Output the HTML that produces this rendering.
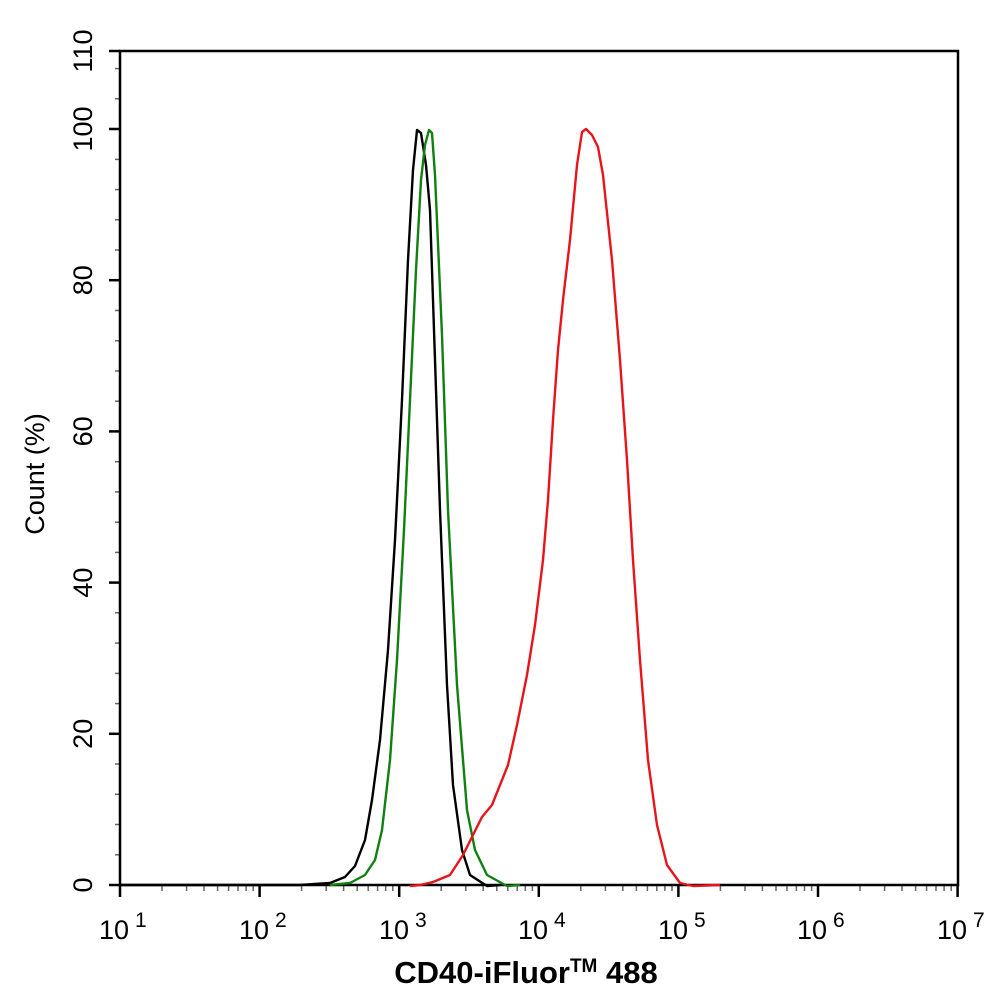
<!DOCTYPE html>
<html><head><meta charset="utf-8"><style>
html,body{margin:0;padding:0;background:#fff;}
svg text{font-family:"Liberation Sans",Arial,sans-serif;}
</style></head><body>
<svg width="994" height="1002" viewBox="0 0 994 1002" xmlns="http://www.w3.org/2000/svg">
<rect width="994" height="1002" fill="#fff"/>
<defs>
<g id="dm" stroke="#666" stroke-width="1.5">
<line x1="42" y1="885" x2="42" y2="891"/><line x1="66.6" y1="885" x2="66.6" y2="891"/><line x1="84" y1="885" x2="84" y2="891"/><line x1="97.6" y1="885" x2="97.6" y2="891"/><line x1="108.6" y1="885" x2="108.6" y2="891"/><line x1="118" y1="885" x2="118" y2="891"/><line x1="126.1" y1="885" x2="126.1" y2="891"/><line x1="133.2" y1="885" x2="133.2" y2="891"/>
</g>
</defs>
<use href="#dm" x="120"/><use href="#dm" x="259.6"/><use href="#dm" x="399.2"/><use href="#dm" x="538.8"/><use href="#dm" x="678.4"/><use href="#dm" x="818"/>
<g stroke="#666" stroke-width="1.5">
<line x1="115" x2="120" y1="854.8" y2="854.8"/><line x1="115" x2="120" y1="824.5" y2="824.5"/><line x1="115" x2="120" y1="794.3" y2="794.3"/><line x1="115" x2="120" y1="764.0" y2="764.0"/>
<line x1="115" x2="120" y1="703.6" y2="703.6"/><line x1="115" x2="120" y1="673.4" y2="673.4"/><line x1="115" x2="120" y1="643.1" y2="643.1"/><line x1="115" x2="120" y1="612.8" y2="612.8"/>
<line x1="115" x2="120" y1="552.4" y2="552.4"/><line x1="115" x2="120" y1="522.2" y2="522.2"/><line x1="115" x2="120" y1="491.9" y2="491.9"/><line x1="115" x2="120" y1="461.7" y2="461.7"/>
<line x1="115" x2="120" y1="401.2" y2="401.2"/><line x1="115" x2="120" y1="371.0" y2="371.0"/><line x1="115" x2="120" y1="340.8" y2="340.8"/><line x1="115" x2="120" y1="310.5" y2="310.5"/>
<line x1="115" x2="120" y1="250.0" y2="250.0"/><line x1="115" x2="120" y1="219.8" y2="219.8"/><line x1="115" x2="120" y1="189.6" y2="189.6"/><line x1="115" x2="120" y1="159.4" y2="159.4"/>
<line x1="115" x2="120" y1="98.8" y2="98.8"/><line x1="115" x2="120" y1="68.6" y2="68.6"/>
</g>
<g stroke="#000" stroke-width="2.5">
<line x1="109" x2="120" y1="885" y2="885"/><line x1="109" x2="120" y1="733.8" y2="733.8"/><line x1="109" x2="120" y1="582.6" y2="582.6"/><line x1="109" x2="120" y1="431.4" y2="431.4"/><line x1="109" x2="120" y1="280.2" y2="280.2"/><line x1="109" x2="120" y1="129" y2="129"/><line x1="109" x2="120" y1="51" y2="51"/>
<line y1="885" y2="897" x1="120" x2="120"/><line y1="885" y2="897" x1="259.6" x2="259.6"/><line y1="885" y2="897" x1="399.2" x2="399.2"/><line y1="885" y2="897" x1="538.8" x2="538.8"/><line y1="885" y2="897" x1="678.4" x2="678.4"/><line y1="885" y2="897" x1="818" x2="818"/><line y1="885" y2="897" x1="957.6" x2="957.6"/>
</g>
<rect x="120" y="51" width="838" height="834" fill="none" stroke="#000" stroke-width="2.5"/>
<g font-size="27" fill="#000" text-anchor="middle">
<text transform="translate(92,885) rotate(-90)">0</text>
<text transform="translate(92,733.8) rotate(-90)">20</text>
<text transform="translate(92,582.6) rotate(-90)">40</text>
<text transform="translate(92,431.4) rotate(-90)">60</text>
<text transform="translate(92,280.2) rotate(-90)">80</text>
<text transform="translate(92,129) rotate(-90)">100</text>
<text transform="translate(92,51) rotate(-90)">110</text>
</g>
<g font-size="27" fill="#000">
<text x="99" y="939">10<tspan font-size="21" dx="6" dy="-12">1</tspan></text>
<text x="239" y="939">10<tspan font-size="21" dx="6" dy="-12">2</tspan></text>
<text x="379" y="939">10<tspan font-size="21" dx="6" dy="-12">3</tspan></text>
<text x="518" y="939">10<tspan font-size="21" dx="6" dy="-12">4</tspan></text>
<text x="658" y="939">10<tspan font-size="21" dx="6" dy="-12">5</tspan></text>
<text x="797" y="939">10<tspan font-size="21" dx="6" dy="-12">6</tspan></text>
<text x="937" y="939">10<tspan font-size="21" dx="6" dy="-12">7</tspan></text>
</g>
<text transform="translate(44,474) rotate(-90)" font-size="27" text-anchor="middle">Count  (%)</text>
<text x="526" y="983" font-size="31" font-weight="bold" text-anchor="middle">CD40-iFluor<tspan font-size="19" dy="-11">TM</tspan><tspan dy="11"> 488</tspan></text>
<path fill="none" stroke="#000" stroke-width="2.4" stroke-linejoin="round" d="M120,885 L300,885 330,883 345,877 355,866 365,840 372,800 380,740 388,650 395,540 402,400 408,260 413,170 417,130 421,133 426,165 430,210 435,360 440,510 447,685 453,785 462,850 470,875 487,886 500,885"/>
<path fill="none" stroke="#108010" stroke-width="2.4" stroke-linejoin="round" d="M330,885 350,883 365,875 375,860 382,830 390,760 397,660 404,530 410,400 416,270 421,180 425,145 429,130 432,133 435,175 442,335 448,510 457,685 467,810 475,850 487,875 507,886 520,885"/>
<path fill="none" stroke="#e8141c" stroke-width="2.4" stroke-linejoin="round" d="M410,886 420,885 433,882 450,875 463,855 473,835 482,817 492,805 500,785 508,765 517,725 527,675 535,625 543,560 548,500 553,420 558,350 563,300 570,240 577,165 582,132 586,129 592,135 598,147 603,175 612,260 620,360 627,460 633,560 640,660 648,760 657,825 667,865 680,883 693,886 720,885"/>
</svg>
</body></html>
